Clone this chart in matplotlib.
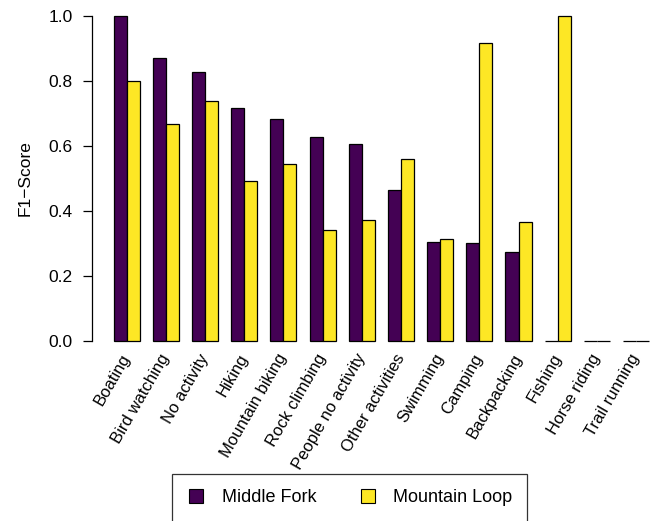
import matplotlib.pyplot as plt
from matplotlib.lines import Line2D
import numpy as np

plt.rcParams['font.family'] = ['Liberation Sans', 'DejaVu Sans']

activities = ['Boating', 'Bird watching', 'No activity', 'Hiking', 'Mountain biking',
              'Rock climbing', 'People no activity', 'Other activities', 'Swimming',
              'Camping', 'Backpacking', 'Fishing', 'Horse riding', 'Trail running']
middle_fork = [1.0, 0.871, 0.827, 0.717, 0.684, 0.628, 0.606, 0.464, 0.304,
               0.301, 0.273, 0.0, 0.0, 0.0]
mountain_loop = [0.80, 0.667, 0.738, 0.491, 0.546, 0.342, 0.372, 0.561, 0.313,
                 0.917, 0.365, 1.0, 0.0, 0.0]

col_mf = '#440154'
col_ml = '#FDE725'

W, H = 654, 521
fig = plt.figure(figsize=(W / 100, H / 100), dpi=100)

# barplot-style grouping: two bars of width 1, one unit gap before each group
unit = 13.06          # pixels per bar unit
x0_px = 100.6         # pixel position of x = 0
ax_left_px, ax_bottom_px, ax_top_px = 91.7, 341, 16
ax = fig.add_axes([ax_left_px / W, (H - ax_bottom_px) / H,
                   (W - ax_left_px) / W, (ax_bottom_px - ax_top_px) / H])
ax.set_xlim((ax_left_px - x0_px) / unit, (W - x0_px) / unit)
ax.set_ylim(0, 1)

idx = np.arange(len(activities))
left = 1 + 3 * idx
ax.bar(left, middle_fork, width=1, align='edge', color=col_mf,
       edgecolor='black', linewidth=0.9, clip_on=False)
ax.bar(left + 1, mountain_loop, width=1, align='edge', color=col_ml,
       edgecolor='black', linewidth=0.9, clip_on=False)

for side in ['top', 'right', 'bottom']:
    ax.spines[side].set_visible(False)
ax.spines['left'].set_linewidth(0.9)

ax.set_yticks(np.arange(0, 1.01, 0.2))
ax.set_yticklabels(['0.0', '0.2', '0.4', '0.6', '0.8', '1.0'])
ax.tick_params(axis='y', length=6.5, width=0.9, pad=7, labelsize=12.5)

ax.set_xticks(left + 1)
ax.set_xticklabels(activities, rotation=60, ha='right', va='center',
                   rotation_mode='anchor', fontsize=12)
ax.tick_params(axis='x', length=0, pad=10)

ax.set_ylabel('F1\u2212Score', fontsize=12.5)
ax.yaxis.set_label_coords(-0.105, 0.5)

handles = [
    Line2D([], [], linestyle='none', marker='s', markersize=9.5,
           markerfacecolor=col_mf, markeredgecolor='black', markeredgewidth=0.8),
    Line2D([], [], linestyle='none', marker='s', markersize=9.5,
           markerfacecolor=col_ml, markeredgecolor='black', markeredgewidth=0.8),
]
leg = fig.legend(handles, ['Middle Fork', 'Mountain Loop'], ncol=2,
                 loc='upper left', bbox_to_anchor=(172 / W, 1 - 474 / H),
                 borderaxespad=0, fontsize=13, frameon=True, fancybox=False,
                 handlelength=1.0, handletextpad=0.9, columnspacing=2.35,
                 borderpad=0.85)
leg.get_frame().set_edgecolor('black')
leg.get_frame().set_linewidth(0.9)

fig.savefig('out.png', dpi=100)
